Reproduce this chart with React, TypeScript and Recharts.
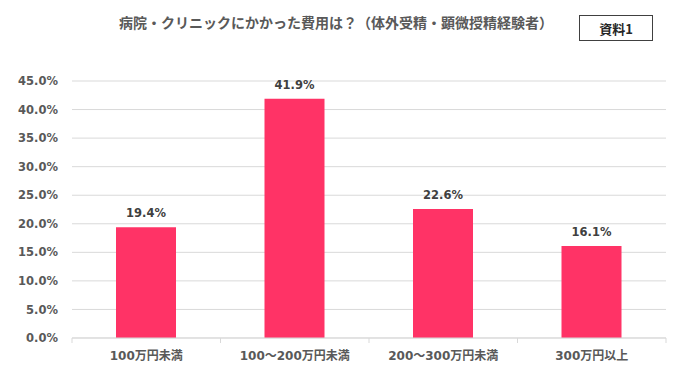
import { BarChart, Bar, XAxis, YAxis, CartesianGrid, LabelList } from "recharts";

const categories = ["100万円未満", "100～200万円未満", "200～300万円未満", "300万円以上"];
const shares = [19.4, 41.9, 22.6, 16.1];
const yTicks = [0, 5, 10, 15, 20, 25, 30, 35, 40, 45];

const data = categories.map((name, i) => ({ name, value: shares[i] }));

const W = 676;
const H = 382;
const LEFT = 72;
const RIGHT = 10;
const BAND = (W - LEFT - RIGHT) / categories.length;
const FONT = "'DejaVu Sans', 'Noto Sans CJK JP', sans-serif";

function CategoryTick(props: any) {
  const { x, y, payload, index } = props;
  const half = BAND / 2;
  return (
    <g>
      <line x1={x - half} x2={x - half} y1={y - 8} y2={y - 3} stroke="#d9d9d9" />
      {index === categories.length - 1 && (
        <line x1={x + half} x2={x + half} y1={y - 8} y2={y - 3} stroke="#d9d9d9" />
      )}
      <text
        x={x}
        y={y + 14}
        textAnchor="middle"
        fill="#595959"
        fontSize={12}
        fontWeight="bold"
        fontFamily={FONT}
      >
        {payload.value}
      </text>
    </g>
  );
}

export default function App() {
  return (
    <div
      style={{
        position: "absolute",
        left: 0,
        top: 0,
        width: W,
        height: H,
        background: "#fff",
        fontFamily: FONT,
      }}
    >
      <div
        style={{
          position: "absolute",
          left: 0,
          width: 672,
          top: 12,
          textAlign: "center",
          fontSize: 14,
          fontWeight: "bold",
          color: "#595959",
          fontFamily: "'Noto Sans CJK JP', sans-serif",
        }}
      >
        病院・クリニックにかかった費用は？（体外受精・顕微授精経験者）
      </div>
      <div
        style={{
          position: "absolute",
          left: 579,
          top: 15,
          width: 72,
          height: 24,
          border: "1px solid #404040",
          display: "flex",
          alignItems: "center",
          justifyContent: "center",
          fontSize: 13,
          fontWeight: "bold",
          color: "#262626",
          fontFamily: "'Noto Sans CJK JP', sans-serif",
        }}
      >
        資料1
      </div>
      <BarChart
        width={W}
        height={H}
        data={data}
        margin={{ top: 81, right: RIGHT, bottom: 14, left: 0 }}
        barCategoryGap="30%"
      >
        <CartesianGrid vertical={false} stroke="#d9d9d9" />
        <XAxis
          dataKey="name"
          height={30}
          axisLine={{ stroke: "#d9d9d9" }}
          tickLine={false}
          tick={<CategoryTick />}
          interval={0}
        />
        <YAxis
          width={LEFT}
          domain={[0, 45]}
          ticks={yTicks}
          axisLine={false}
          tickLine={false}
          tickSize={0}
          tickMargin={14}
          tickFormatter={(v: number) => `${v.toFixed(1)}%`}
          tick={{ fill: "#595959", fontSize: 11.5, fontWeight: "bold", fontFamily: FONT }}
        />
        <Bar dataKey="value" fill="#FF3366" barSize={60} isAnimationActive={false}>
          <LabelList
            dataKey="value"
            position="top"
            offset={10}
            formatter={(v: number) => `${v.toFixed(1)}%`}
            style={{ fill: "#404040", fontSize: 11.5, fontWeight: "bold", fontFamily: FONT }}
          />
        </Bar>
      </BarChart>
    </div>
  );
}
